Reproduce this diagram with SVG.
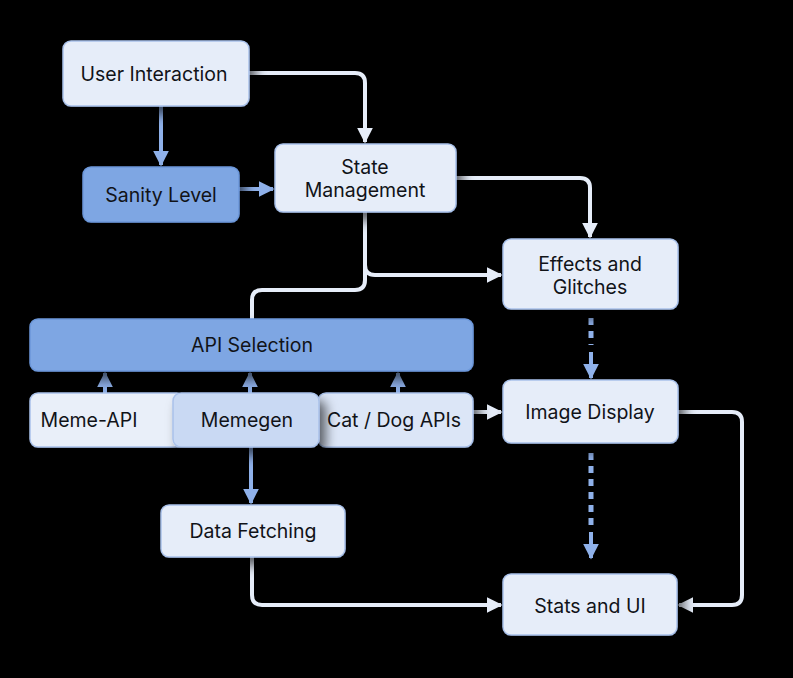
<svg xmlns="http://www.w3.org/2000/svg" width="793" height="678" viewBox="0 0 793 678">
<defs>
<marker id="aw" viewBox="0 0 10 10" refX="9" refY="5" markerWidth="4" markerHeight="4" orient="auto" markerUnits="strokeWidth"><path d="M0,0 L10,5 L0,10 z" fill="#e6edf9"/></marker>
<marker id="ab" viewBox="0 0 10 10" refX="9" refY="5" markerWidth="4" markerHeight="4" orient="auto" markerUnits="strokeWidth"><path d="M0,0 L10,5 L0,10 z" fill="#8fb1ea"/></marker>
<filter id="sh" x="-20%" y="-20%" width="150%" height="160%"><feDropShadow dx="6" dy="8" stdDeviation="6" flood-color="#000" flood-opacity="0.6"/></filter>
</defs>
<style>
.n{fill:#e6edf9;stroke:#a9c1ea;stroke-width:1.5;filter:url(#sh)}
.b{fill:#7ea6e3;stroke:#6c97da;stroke-width:1.5;filter:url(#sh)}
.t{font-family:Inter,"Noto Sans",sans-serif;font-size:19.5px;fill:#111318;text-anchor:middle;dominant-baseline:central}
.cw{fill:none;stroke:#e6edf9;stroke-width:4}
.cb{fill:none;stroke:#8fb1ea;stroke-width:4}
.cd{fill:none;stroke:#8fb1ea;stroke-width:5;stroke-dasharray:7 6}
</style>
<rect width="793" height="678" fill="#000"/>
<g id="connectors">
<path class="cb" d="M161,106 V165" marker-end="url(#ab)"/>
<path class="cb" d="M239,189 H273" marker-end="url(#ab)"/>
<path class="cw" d="M249,73 H355 Q365,73 365,83 V142" marker-end="url(#aw)"/>
<path class="cw" d="M456,178 H580 Q590,178 590,188 V237" marker-end="url(#aw)"/>
<path class="cw" d="M365,212 V265 Q365,275 375,275 H501" marker-end="url(#aw)"/>
<path class="cw" d="M365,265 V280 Q365,290 355,290 H262 Q252,290 252,300 V320"/>
<path class="cd" d="M591,318 V345"/>
<path class="cb" d="M591,352 V378" marker-end="url(#ab)"/>
<path class="cb" d="M105,393 V373" marker-end="url(#ab)"/>
<path class="cb" d="M250,393 V373" marker-end="url(#ab)"/>
<path class="cb" d="M398,393 V373" marker-end="url(#ab)"/>
<path class="cw" d="M473,412 H501" marker-end="url(#aw)"/>
<path class="cb" d="M251,447 V503" marker-end="url(#ab)"/>
<path class="cw" d="M252,557 V595 Q252,605 262,605 H501" marker-end="url(#aw)"/>
<path class="cw" d="M678,412 H732 Q742,412 742,422 V595 Q742,605 732,605 H679" marker-end="url(#aw)"/>
<path class="cd" d="M591,453 V525"/>
<path class="cb" d="M591,532 V558" marker-end="url(#ab)"/>
</g>
<g id="user-interaction"><rect class="n" x="63" y="41" width="186" height="65" rx="8"/><text class="t" x="154" y="74">User Interaction</text></g>
<g id="sanity-level"><rect class="b" x="83" y="167" width="156" height="55" rx="8"/><text class="t" x="161" y="195">Sanity Level</text></g>
<g id="state-management"><rect class="n" x="275" y="144" width="181" height="68" rx="8"/><text class="t" x="365" y="167">State</text><text class="t" x="365" y="190">Management</text></g>
<g id="effects-glitches"><rect class="n" x="503" y="239" width="175" height="70" rx="8"/><text class="t" x="590" y="264">Effects and</text><text class="t" x="590" y="287">Glitches</text></g>
<g id="api-selection"><rect class="b" x="30" y="319" width="443" height="52" rx="8"/><text class="t" x="252" y="345">API Selection</text></g>
<g id="meme-api"><rect class="n" x="30" y="393" width="155" height="54" rx="8" style="fill:#e9eff9"/><text class="t" x="89" y="420">Meme-API</text></g>
<g id="cat-dog-apis"><rect class="n" x="318" y="393" width="155" height="54" rx="8" style="fill:#dce6f7"/><text class="t" x="394" y="420">Cat / Dog APIs</text></g>
<g id="memegen"><rect class="n" x="173" y="393" width="146" height="54" rx="8" style="fill:#c9d9f3"/><text class="t" x="247" y="420">Memegen</text></g>
<g id="image-display"><rect class="n" x="503" y="380" width="175" height="63" rx="8"/><text class="t" x="590" y="412">Image Display</text></g>
<g id="data-fetching"><rect class="n" x="161" y="505" width="184" height="52" rx="8"/><text class="t" x="253" y="531">Data Fetching</text></g>
<g id="stats-ui"><rect class="n" x="503" y="574" width="174" height="61" rx="8"/><text class="t" x="590" y="606">Stats and UI</text></g>
</svg>
